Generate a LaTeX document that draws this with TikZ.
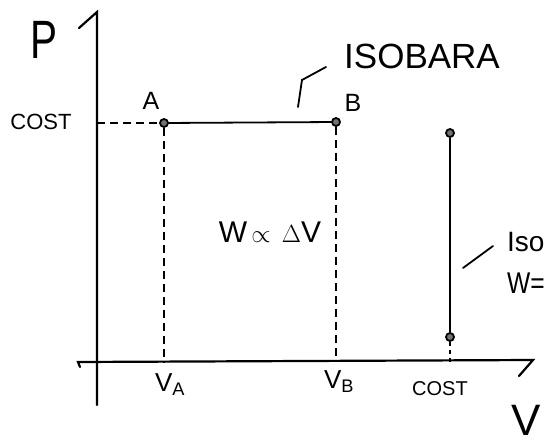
\documentclass[tikz,border=0pt]{standalone}
\usepackage{fontspec}
\setmainfont{Liberation Sans}
\begin{document}
\begin{tikzpicture}[x=1pt,y=-1pt,
  axis/.style={line width=2.2pt,line cap=round},
  ink/.style={line width=1.8pt,line cap=round},
  guide/.style={line width=1.2pt,dash pattern=on 8pt off 5pt},
  pt/.style={circle,draw,line width=1.8pt,fill=black!55,inner sep=0pt,minimum size=8pt},
  lbl/.style={inner sep=0pt,font=\fontsize{25}{27}\selectfont}]
\useasboundingbox (0,0) rectangle (547,447);
% axes
\coordinate (ytop) at (97,12);
\coordinate (ybot) at (97,405);
\coordinate (yhook) at (79,28);
\coordinate (xl) at (78,362);
\coordinate (xr) at (533,360);
\coordinate (xhook) at (519,376);
\coordinate (xlhook) at (80,367);
\draw[axis] (ybot) -- (ytop) -- (yhook);
\draw[axis] (xlhook) -- (xl) -- (xr) -- (xhook);
% points
\node[pt] (A) at (164,123) {};
\node[pt] (B) at (336,122) {};
\node[pt] (C1) at (450,133) {};
\node[pt] (C2) at (450,337) {};
\coordinate (yA) at (97,123);
\coordinate (fA) at (164,362);
\coordinate (fB) at (336,362);
\coordinate (fC) at (450,362);
\draw[ink] (A) -- (B);
\draw[line width=2.4pt] (C1) -- (C2);
\draw[guide] (yA) -- (A);
\draw[guide] (A) -- (fA);
\draw[guide] (B) -- (fB);
\draw[guide,dash pattern=on 4pt off 4pt] (C2) -- (fC);
% leaders
\coordinate (l1a) at (298,107);
\coordinate (l1b) at (302,80);
\coordinate (l1c) at (326,67);
\draw[ink] (l1a) -- (l1b) -- (l1c);
\coordinate (l2a) at (463,268);
\coordinate (l2b) at (493,246);
\draw[ink] (l2a) -- (l2b);
% labels
\node[inner sep=0pt,font=\fontsize{54}{56}\selectfont,xscale=0.75,transform shape] (P) at (44,40) {P};
\node[inner sep=0pt,font=\fontsize{22}{24}\selectfont] (cost1) at (41,122) {COST};
\node[lbl] (la) at (151,101) {A};
\node[lbl] (lb) at (353,103) {B};
\node[inner sep=0pt,font=\fontsize{35}{37}\selectfont,anchor=west] (iso) at (344,56) {ISOBARA};
\node[inner sep=0pt,font=\fontsize{30}{32}\selectfont] (w) at (270,232) {W$\,\propto\,\Delta$V};
\node[inner sep=0pt,font=\fontsize{26}{28}\selectfont] (va) at (170,385) {V\textsubscript{A}};
\node[inner sep=0pt,font=\fontsize{26}{28}\selectfont] (vb) at (339,382) {V\textsubscript{B}};
\node[inner sep=0pt,font=\fontsize{20}{22}\selectfont] (cost2) at (440,389) {COST};
\node[inner sep=0pt,font=\fontsize{44}{46}\selectfont,anchor=east] (V) at (541,420) {V};
\node[inner sep=0pt,font=\fontsize{28}{30}\selectfont,anchor=west] (iso2) at (507,242) {Iso};
\node[inner sep=0pt,font=\fontsize{30}{32}\selectfont,anchor=west,xscale=0.82,transform shape] (w2) at (507,283) {W=};
\end{tikzpicture}
\end{document}
